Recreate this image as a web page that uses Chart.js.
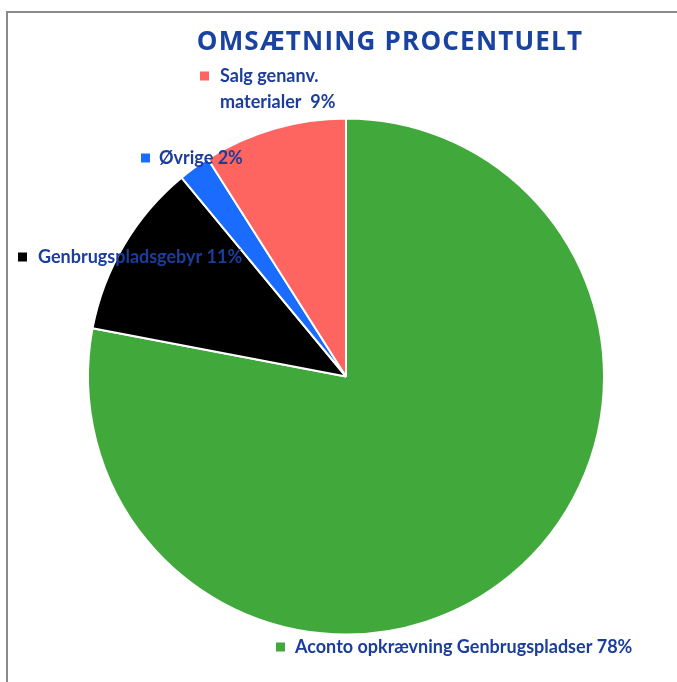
<!DOCTYPE html>
<html>
<head>
<meta charset="utf-8">
<script src="https://cdn.jsdelivr.net/npm/chart.js@4/dist/chart.umd.min.js"></script>
<style>
  html, body { margin: 0; padding: 0; background: #fff; }
  #wrap { position: relative; width: 677px; height: 682px; overflow: hidden; }
  #frame { position: absolute; left: 6px; top: 11px; width: 800px; height: 800px;
           border-left: 2px solid #8a8a8a; border-top: 2px solid #8a8a8a; }
  canvas { position: absolute; left: 0; top: 0; }
</style>
</head>
<body>
<div id="wrap">
  <div id="frame"></div>
  <canvas id="c" width="677" height="682"></canvas>
</div>
<script>
const title = 'OMSÆTNING PROCENTUELT';
const categories = ['Aconto opkrævning Genbrugspladser', 'Genbrugspladsgebyr', 'Øvrige', 'Salg genanv. materialer'];
const values = [78, 11, 2, 9];
const colors = ['#41a93b', '#000000', '#1a6cff', '#ff6560'];

const textColor = '#1b3d9b';
const labelFont = 'bold 18px Lato, "Open Sans", sans-serif';

// label layout: text lines, marker + text anchor (canvas px)
const labelLayout = [
  { lines: [categories[0] + ' ' + values[0] + '%'], mx: 276, x: 295, y: 647 },
  { lines: [categories[1] + ' ' + values[1] + '%'], mx: 18, x: 38, y: 257 },
  { lines: [categories[2] + ' ' + values[2] + '%'], mx: 141, x: 159, y: 158 },
  { lines: ['Salg genanv.', 'materialer  ' + values[3] + '%'], mx: 200, x: 220, y: 76 }
];

const labelPlugin = {
  id: 'labelPlugin',
  afterDraw(chart) {
    const ctx = chart.ctx;
    ctx.save();
    // title
    ctx.font = 'bold 26px "Open Sans", sans-serif';
    ctx.fillStyle = '#1a42a0';
    ctx.textBaseline = 'middle';
    ctx.textAlign = 'center';
    if ('letterSpacing' in ctx) ctx.letterSpacing = '1.2px';
    ctx.fillText(title, 390, 43);
    if ('letterSpacing' in ctx) ctx.letterSpacing = '0px';
    // labels
    ctx.textAlign = 'left';
    ctx.font = labelFont;
    labelLayout.forEach((l, i) => {
      ctx.fillStyle = colors[i];
      ctx.fillRect(l.mx, l.y - 4.5, 9, 9);
      ctx.fillStyle = textColor;
      l.lines.forEach((t, j) => ctx.fillText(t, l.x, l.y + j * 26));
    });
    ctx.restore();
  }
};

new Chart(document.getElementById('c'), {
  type: 'pie',
  data: {
    labels: categories,
    datasets: [{
      data: values,
      backgroundColor: colors,
      borderColor: '#ffffff',
      borderWidth: 2
    }]
  },
  options: {
    responsive: false,
    animation: false,
    layout: { padding: { left: 87, top: 117, right: 72, bottom: 46 } },
    plugins: {
      legend: { display: false },
      title: { display: false },
      tooltip: { enabled: false }
    }
  },
  plugins: [labelPlugin]
});
</script>
</body>
</html>
